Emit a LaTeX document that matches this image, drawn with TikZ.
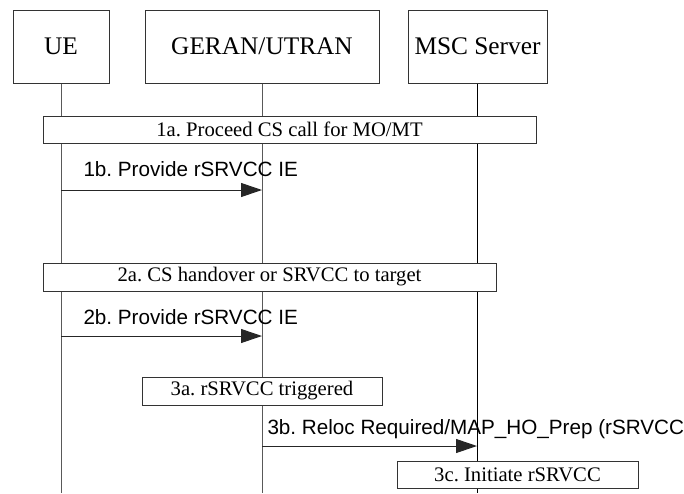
\documentclass[tikz,border=0pt]{standalone}
\usepackage{fontspec}
\setmainfont{Liberation Serif}
\newfontfamily\arialf{Liberation Sans}
\usetikzlibrary{arrows.meta}
\frenchspacing
\begin{document}
\begin{tikzpicture}[x=0.75pt,y=-0.75pt,
  line width=0.75pt,
  entity/.style={draw=black!80, fill=white, inner sep=0pt, minimum height=54.75pt, font=\fontsize{19}{21}\selectfont},
  action/.style={draw=black!80, fill=white, inner sep=0pt, font=\fontsize{15.5}{17}\selectfont},
  msglabel/.style={anchor=base west, inner sep=0pt, font=\arialf\fontsize{15.5}{17}\selectfont},
  lifeline/.style={draw=black!65},
  msg/.style={draw=black!85, -{Triangle[length=15.75pt,width=10.5pt]}}]
\useasboundingbox (0,0) rectangle (684,493);
% entities
\node[entity, minimum width=72pt] (ue) at (61,46.5) {UE};
\node[entity, minimum width=175.5pt] (ran) at (262,46.5) {GERAN/UTRAN};
\node[entity, minimum width=104.25pt] (msc) at (477.5,46.5) {MSC Server};
% lifelines
\coordinate (ueEnd) at (61,493);
\coordinate (ranEnd) at (262,493);
\coordinate (mscEnd) at (477,493);
\draw[lifeline] (ue.south) -- (ueEnd);
\draw[lifeline] (ran.south) -- (ranEnd);
\draw[draw=black] (msc.south -| mscEnd) -- (mscEnd);
% step 1
\node[action, minimum width=369.75pt, minimum height=20.25pt] (s1a) at (289.5,129.5) {1a. Proceed CS call for MO/MT};
\coordinate (m1s) at (61,190);
\coordinate (m1e) at (262,190);
\draw[msg] (m1s) -- (m1e);
\node[msglabel] (l1b) at (83,176) {1b. Provide rSRVCC IE};
% step 2
\node[action, minimum width=339.75pt, minimum height=21pt] (s2a) at (269.5,277) {2a. CS handover or SRVCC to target};
\coordinate (m2s) at (61,336);
\coordinate (m2e) at (262,336);
\draw[msg] (m2s) -- (m2e);
\node[msglabel] (l2b) at (83,324) {2b. Provide rSRVCC IE};
% step 3
\node[action, minimum width=180pt, minimum height=21pt] (s3a) at (262,391) {3a. rSRVCC triggered};
\coordinate (m3s) at (262,446);
\coordinate (m3e) at (477,446);
\draw[msg] (m3s) -- (m3e);
\node[msglabel] (l3b) at (267,434) {3b. Reloc Required/MAP\_HO\_Prep (rSRVCC};
\node[action, minimum width=180.75pt, minimum height=20.25pt] (s3c) at (517.5,474.5) {3c. Initiate rSRVCC};
\end{tikzpicture}
\end{document}
